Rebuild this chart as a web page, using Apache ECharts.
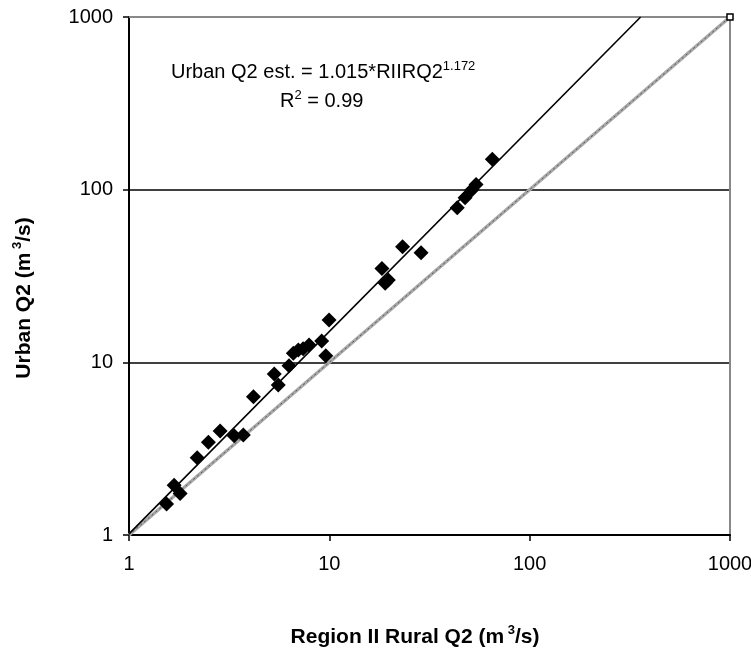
<!DOCTYPE html>
<html>
<head>
<meta charset="utf-8">
<script src="https://cdn.jsdelivr.net/npm/echarts@6/dist/echarts.min.js"></script>
<style>html,body{margin:0;padding:0;background:#fff}#c{width:751px;height:649px}</style>
</head>
<body>
<div id="c"></div>
<script>
var ruralQ2 = [1.54, 1.68, 1.80, 2.19, 2.49, 2.85, 3.35, 3.72, 4.18, 5.31, 5.56, 6.29, 6.61, 7.0, 7.4, 7.92, 9.16, 9.6, 9.97, 18.3, 19.0, 19.7, 23.2, 28.7, 43.5, 47.6, 51.4, 54.0, 65.1];
var urbanQ2 = [1.51, 1.94, 1.74, 2.80, 3.44, 4.0, 3.76, 3.79, 6.32, 8.56, 7.39, 9.56, 11.3, 11.8, 12.0, 12.6, 13.3, 10.9, 17.6, 35.0, 28.7, 30.0, 46.7, 43.1, 78.6, 89.8, 99.5, 107, 150];
// Trend line endpoints (as drawn)
var trendX = [1, 358];
var trendY = [1.015, 1000];
// 1:1 line endpoints
var oneX = [1, 1000];
var oneY = [1, 1000];
var tickLabels = ['1', '10', '100', '1000'];

var pts = ruralQ2.map(function (x, i) { return [x, urbanQ2[i]]; });
var trend = trendX.map(function (x, i) { return [x, trendY[i]]; });
var one = oneX.map(function (x, i) { return [x, oneY[i]]; });

function fmt(v) {
  var idx = Math.round(Math.log(v) / Math.LN10);
  return tickLabels[idx] !== undefined ? tickLabels[idx] : String(v);
}

var FONT = 'Liberation Sans';
var supRich = {
  m: { fontFamily: FONT, fontSize: 20, color: '#000', lineHeight: 24 },
  s: { fontFamily: FONT, fontSize: 13, color: '#000', lineHeight: 11, verticalAlign: 'top' }
};
var titleRich = {
  m: { fontFamily: FONT, fontSize: 21, fontWeight: 'bold', color: '#000', lineHeight: 26 },
  s: { fontFamily: FONT, fontSize: 13, fontWeight: 'bold', color: '#000', lineHeight: 12, verticalAlign: 'top' }
};

var chart = echarts.init(document.getElementById('c'), null, { renderer: 'canvas' });
chart.setOption({
  animation: false,
  backgroundColor: '#fff',
  grid: { left: 129, right: 21, top: 17, bottom: 114, containLabel: false, outerBoundsMode: 'none' },
  xAxis: [{
    type: 'log', logBase: 10, min: 1, max: 1000,
    axisLine: { show: true, lineStyle: { color: '#000', width: 2 } },
    axisTick: { show: true, inside: false, length: 6, lineStyle: { color: '#000', width: 1.5 } },
    axisLabel: { fontFamily: FONT, fontSize: 20, color: '#000', margin: 19, formatter: fmt },
    splitLine: { show: false }
  }, {
    type: 'log', logBase: 10, min: 1, max: 1000, position: 'top',
    axisLine: { show: true, lineStyle: { color: '#888', width: 2 } },
    axisTick: { show: false }, axisLabel: { show: false }, splitLine: { show: false }
  }],
  yAxis: [{
    type: 'log', logBase: 10, min: 1, max: 1000,
    axisLine: { show: true, lineStyle: { color: '#000', width: 2 } },
    axisTick: { show: true, inside: false, length: 6, lineStyle: { color: '#000', width: 1.5 } },
    axisLabel: { fontFamily: FONT, fontSize: 20, color: '#000', margin: 16, formatter: fmt },
    splitLine: { show: true, lineStyle: { color: ['#000', '#000', '#000', '#888'], width: 1.5 } }
  }, {
    type: 'log', logBase: 10, min: 1, max: 1000, position: 'right',
    axisLine: { show: true, lineStyle: { color: '#888', width: 2 } },
    axisTick: { show: false }, axisLabel: { show: false }, splitLine: { show: false }
  }],
  series: [{
    type: 'line', data: one, symbol: 'none', z: 2,
    lineStyle: { color: '#a8a8a8', width: 3.5 }
  }, {
    type: 'line', data: one, symbol: 'none', z: 3,
    lineStyle: { color: '#555', width: 1, type: [2, 3] }
  }, {
    type: 'scatter', data: [one[1]], symbol: 'rect', symbolSize: 6, z: 4,
    itemStyle: { color: '#fff', borderColor: '#000', borderWidth: 1.5, opacity: 1 }
  }, {
    type: 'line', data: trend, symbol: 'none', z: 5,
    lineStyle: { color: '#000', width: 1.6 }
  }, {
    type: 'scatter', data: pts, symbol: 'diamond', symbolSize: 15, z: 6,
    itemStyle: { color: '#000', opacity: 1 }
  }],
  graphic: [{
    type: 'text', x: 171, y: 60,
    style: { text: '{m|Urban Q2 est. = 1.015*RIIRQ2}{s|1.172}', rich: supRich }
  }, {
    type: 'text', x: 280, y: 89,
    style: { text: '{m|R}{s|2}{m| = 0.99}', rich: supRich }
  }, {
    type: 'text', x: 415, y: 637,
    style: { text: '{m|Region II Rural Q2 (m}{s| 3}{m|/s)}', rich: titleRich, align: 'center', verticalAlign: 'middle' }
  }, {
    type: 'text', x: 24, y: 298, rotation: Math.PI / 2,
    style: { text: '{m|Urban Q2 (m}{s| 3}{m|/s)}', rich: titleRich, align: 'center', verticalAlign: 'middle' }
  }]
});
</script>
</body>
</html>
